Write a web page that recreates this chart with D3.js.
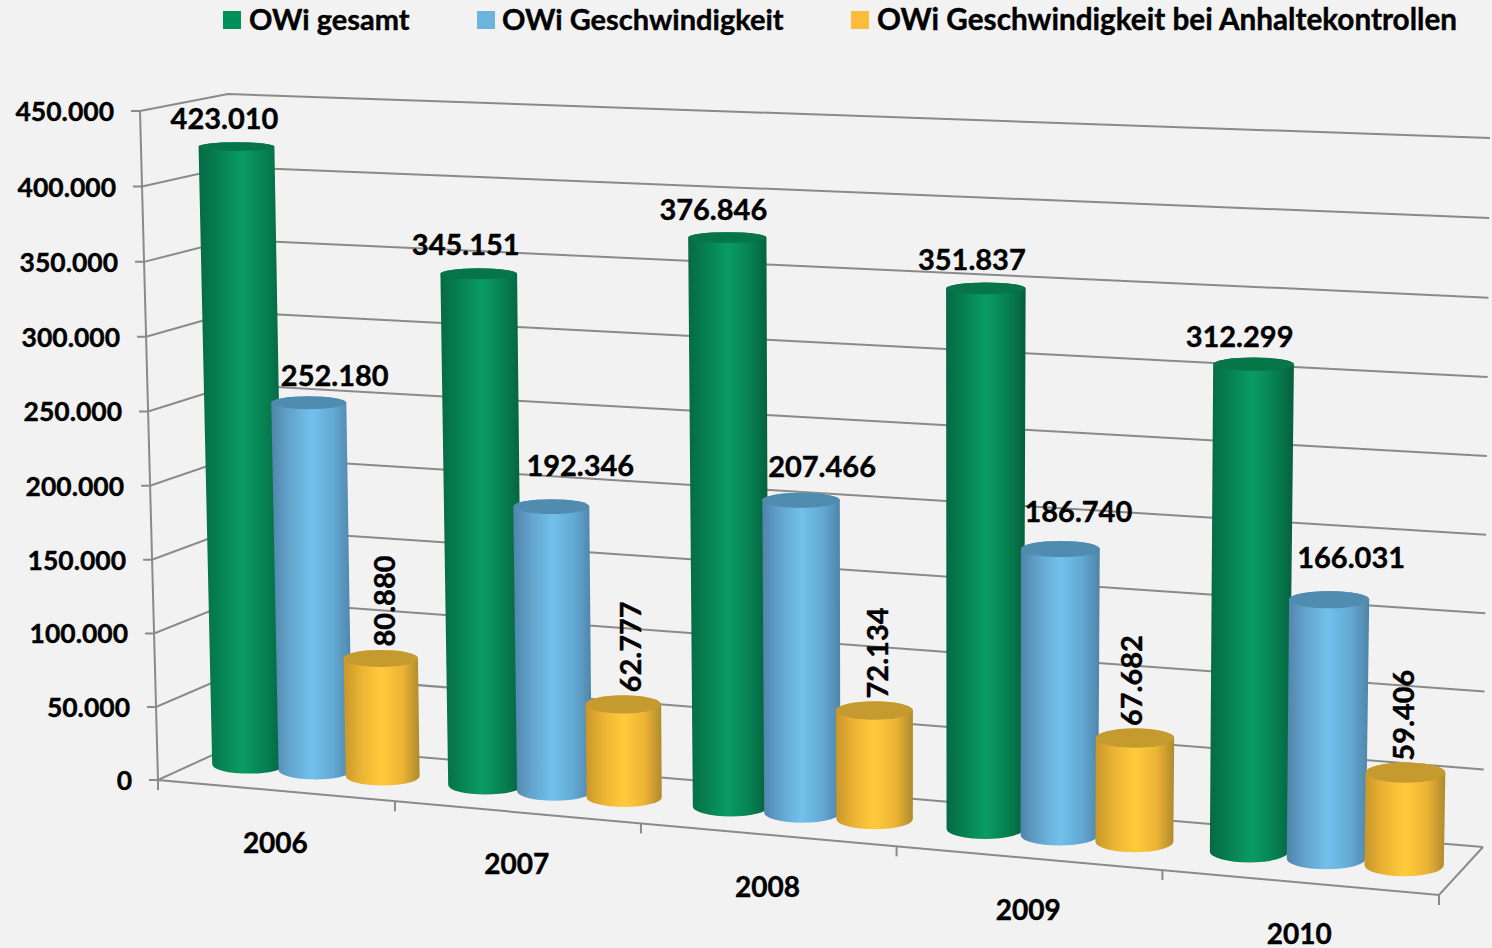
<!DOCTYPE html>
<html lang="de">
<head>
<meta charset="UTF-8" />
<style>
    html, body { margin: 0; padding: 0; background: #f2f2f2; }
    svg { display: block; }
    text { font-family: Lato, "Open Sans", sans-serif; font-weight: 700; fill: #000; stroke: #000; stroke-width: 0.4; }
</style>
</head>
<body>
<svg id="chart" width="1492" height="948"></svg>
<script src="https://d3js.org/d3.v7.min.js"></script>
<script>
// data
var years = ["2006", "2007", "2008", "2009", "2010"];
var seriesNames = ["OWi gesamt", "OWi Geschwindigkeit", "OWi Geschwindigkeit bei Anhaltekontrollen"];
var gesamt = [423010, 345151, 376846, 351837, 312299];
var geschwindigkeit = [252180, 192346, 207466, 186740, 166031];
var anhaltekontrollen = [80880, 62777, 72134, 67682, 59406];
var yMax = 450000;
var yStep = 50000;

// look of each series: swatch, cylinder shading (edge, mid, centre, mid, edge), lid
var swatchColors = ["#008f59", "#6cb4dd", "#fbbd3b"];
var bodyColors = [
    ["#066a45", "#067f50", "#0a9c63", "#067f50", "#065f3e"],
    ["#4f84a8", "#62a3cc", "#72c1ec", "#62a8d2", "#4f84a8"],
    ["#c8962a", "#eab233", "#ffcb3c", "#ecb334", "#ae8a2e"]
];
var lidColors = ["#067548", "#4f8cb0", "#c59a2e"];

// label nudges from the modelled bar top (px)
var labelDx = [[-12, -13, -14, -14, -14], [26, 29, 21, 18, 22], [3, 6, 2, -4, -3]];
var labelDy = [[-29, -30, -29, -30, -29], [-28, -42, -35, -39, -43], [-12, -12, -12, -12, -12]];

// unit square -> quad, corners in order (0,0) (1,0) (1,1) (0,1)
function homography(q) {
    var dx1 = q[1][0] - q[2][0], dx2 = q[3][0] - q[2][0], sx = q[0][0] - q[1][0] + q[2][0] - q[3][0];
    var dy1 = q[1][1] - q[2][1], dy2 = q[3][1] - q[2][1], sy = q[0][1] - q[1][1] + q[2][1] - q[3][1];
    var den = dx1 * dy2 - dx2 * dy1;
    var g = (sx * dy2 - dx2 * sy) / den;
    var h = (dx1 * sy - sx * dy1) / den;
    var a = q[1][0] - q[0][0] + g * q[1][0], b = q[3][0] - q[0][0] + h * q[3][0], c = q[0][0];
    var d = q[1][1] - q[0][1] + g * q[1][1], e = q[3][1] - q[0][1] + h * q[3][1], f = q[0][1];
    return function (s, t) {
        var w = g * s + h * t + 1;
        return [(a * s + b * t + c) / w, (d * s + e * t + f) / w];
    };
}

// the three vertical planes of the 3d box
var frontPlane = homography([[158, 780], [1439, 895], [1446, 159], [140, 111]]);
var barPlane = homography([[199, 760], [1463.5, 870.5], [1474.5, 153], [185, 104.5]]);
var backPlane = homography([[241, 742], [1483, 847], [1490, 138], [228, 94]]);

var xScale = d3.scaleBand().domain(years).range([0, 1]);
var seriesScale = d3.scaleBand().domain(seriesNames).range([0, xScale.bandwidth()]).paddingInner(0).paddingOuter(0.254);
var yScale = d3.scaleLinear().domain([0, yMax]).range([0, 1]);
var lidRatio = d3.scaleLinear().domain([145, 865]).range([0.115, 0.275]);
var fmt = d3.formatLocale({ decimal: ",", thousands: ".", grouping: [3], currency: ["", ""] }).format(",d");

var svg = d3.select("#chart");
var allSeries = [gesamt, geschwindigkeit, anhaltekontrollen];
var yTicks = d3.range(0, yMax + 1, yStep);
var lineColor = "#8a8a8a";

function poly(points) {
    return d3.line()(points);
}

// gradients
var defs = svg.append("defs");
bodyColors.forEach(function (colors, i) {
    var grad = defs.append("linearGradient").attr("id", "body" + i);
    [0, 0.22, 0.5, 0.78, 1].forEach(function (o, k) {
        grad.append("stop").attr("offset", o).attr("stop-color", colors[k]);
    });
});

// grid
var grid = svg.append("g").attr("fill", "none").attr("stroke", lineColor).attr("stroke-width", 2);
yTicks.forEach(function (v) {
    var t = yScale(v);
    var p = frontPlane(0, t);
    grid.append("path").attr("d", poly([[p[0] - 9, p[1]], p, backPlane(0, t), backPlane(1, t)]));
});
// axis, floor
grid.append("path").attr("d", poly([frontPlane(0, 1), frontPlane(0, 0), frontPlane(1, 0), backPlane(1, 0)]));
years.forEach(function (y, i) {
    var p = frontPlane(xScale(y), 0);
    grid.append("path").attr("d", poly([p, [p[0], p[1] + 10]]));
});
var endTick = frontPlane(1, 0);
grid.append("path").attr("d", poly([endTick, [endTick[0], endTick[1] + 10]]));

// y tick labels
svg.append("g").selectAll("text").data(yTicks).enter().append("text")
    .attr("x", function (v) { return frontPlane(0, yScale(v))[0] - 26; })
    .attr("y", function (v) { return frontPlane(0, yScale(v))[1]; })
    .attr("text-anchor", "end")
    .attr("dominant-baseline", "central")
    .attr("font-size", 26.5)
    .text(function (v) { return fmt(v); });

// x labels
svg.append("g").selectAll("text").data(years).enter().append("text")
    .attr("x", function (y) { return frontPlane(xScale(y) + xScale.bandwidth() / 2, 0)[0]; })
    .attr("y", function (y) { return frontPlane(xScale(y) + xScale.bandwidth() / 2, 0)[1] + 51; })
    .attr("text-anchor", "middle")
    .attr("dominant-baseline", "central")
    .attr("font-size", 28)
    .text(function (y) { return y; });

// cylinders
function halfWidth(s, t) {
    // screen width follows the local vertical scale, not the foreshortened x spacing
    var a = barPlane(s, t), b = barPlane(s, t + yScale(1000));
    return 25.5 * Math.abs(a[1] - b[1]);
}

var labels = [];
years.forEach(function (year, i) {
    seriesNames.forEach(function (name, j) {
        var s = xScale(year) + seriesScale(name) + seriesScale.bandwidth() / 2;
        var value = allSeries[j][i];
        var t = yScale(value);
        var top = barPlane(s, t), bottom = barPlane(s, 0);
        var hwTop = halfWidth(s, t), hwBottom = halfWidth(s, 0);
        var ryTop = hwTop * lidRatio(top[1]), ryBottom = hwBottom * lidRatio(bottom[1]);
        var g = svg.append("g");
        g.append("path")
            .attr("fill", "url(#body" + j + ")")
            .attr("d", "M" + (top[0] - hwTop) + "," + top[1] +
                "L" + (bottom[0] - hwBottom) + "," + bottom[1] +
                "A" + hwBottom + "," + ryBottom + " 0 0 0 " + (bottom[0] + hwBottom) + "," + bottom[1] +
                "L" + (top[0] + hwTop) + "," + top[1] +
                "A" + hwTop + "," + ryTop + " 0 0 0 " + (top[0] - hwTop) + "," + top[1] + "Z");
        g.append("ellipse")
            .attr("cx", top[0]).attr("cy", top[1])
            .attr("rx", hwTop).attr("ry", ryTop)
            .attr("fill", lidColors[j]);
        labels.push({ x: top[0] + labelDx[j][i], y: top[1] + labelDy[j][i], text: fmt(value), rotated: j === 2 });
    });
});

// value labels
var labelG = svg.append("g");
labels.forEach(function (d) {
    var txt = labelG.append("text")
        .attr("font-size", 29)
        .attr("dominant-baseline", "central")
        .text(d.text);
    if (d.rotated) {
        txt.attr("text-anchor", "start").attr("transform", "translate(" + d.x + "," + d.y + ") rotate(-90)");
    } else {
        txt.attr("text-anchor", "middle").attr("x", d.x).attr("y", d.y);
    }
});

// legend
var legendX = [223, 477, 851];
var legendFont = [29, 29, 29.7];
var legend = svg.append("g");
seriesNames.forEach(function (name, i) {
    legend.append("rect").attr("x", legendX[i]).attr("y", 11).attr("width", 18).attr("height", 18).attr("fill", swatchColors[i]);
    legend.append("text").attr("x", legendX[i] + 26 - (i === 1 ? 1 : 0)).attr("y", 18)
        .attr("dominant-baseline", "central").attr("font-size", legendFont[i]).text(name);
});
</script>
</body>
</html>
